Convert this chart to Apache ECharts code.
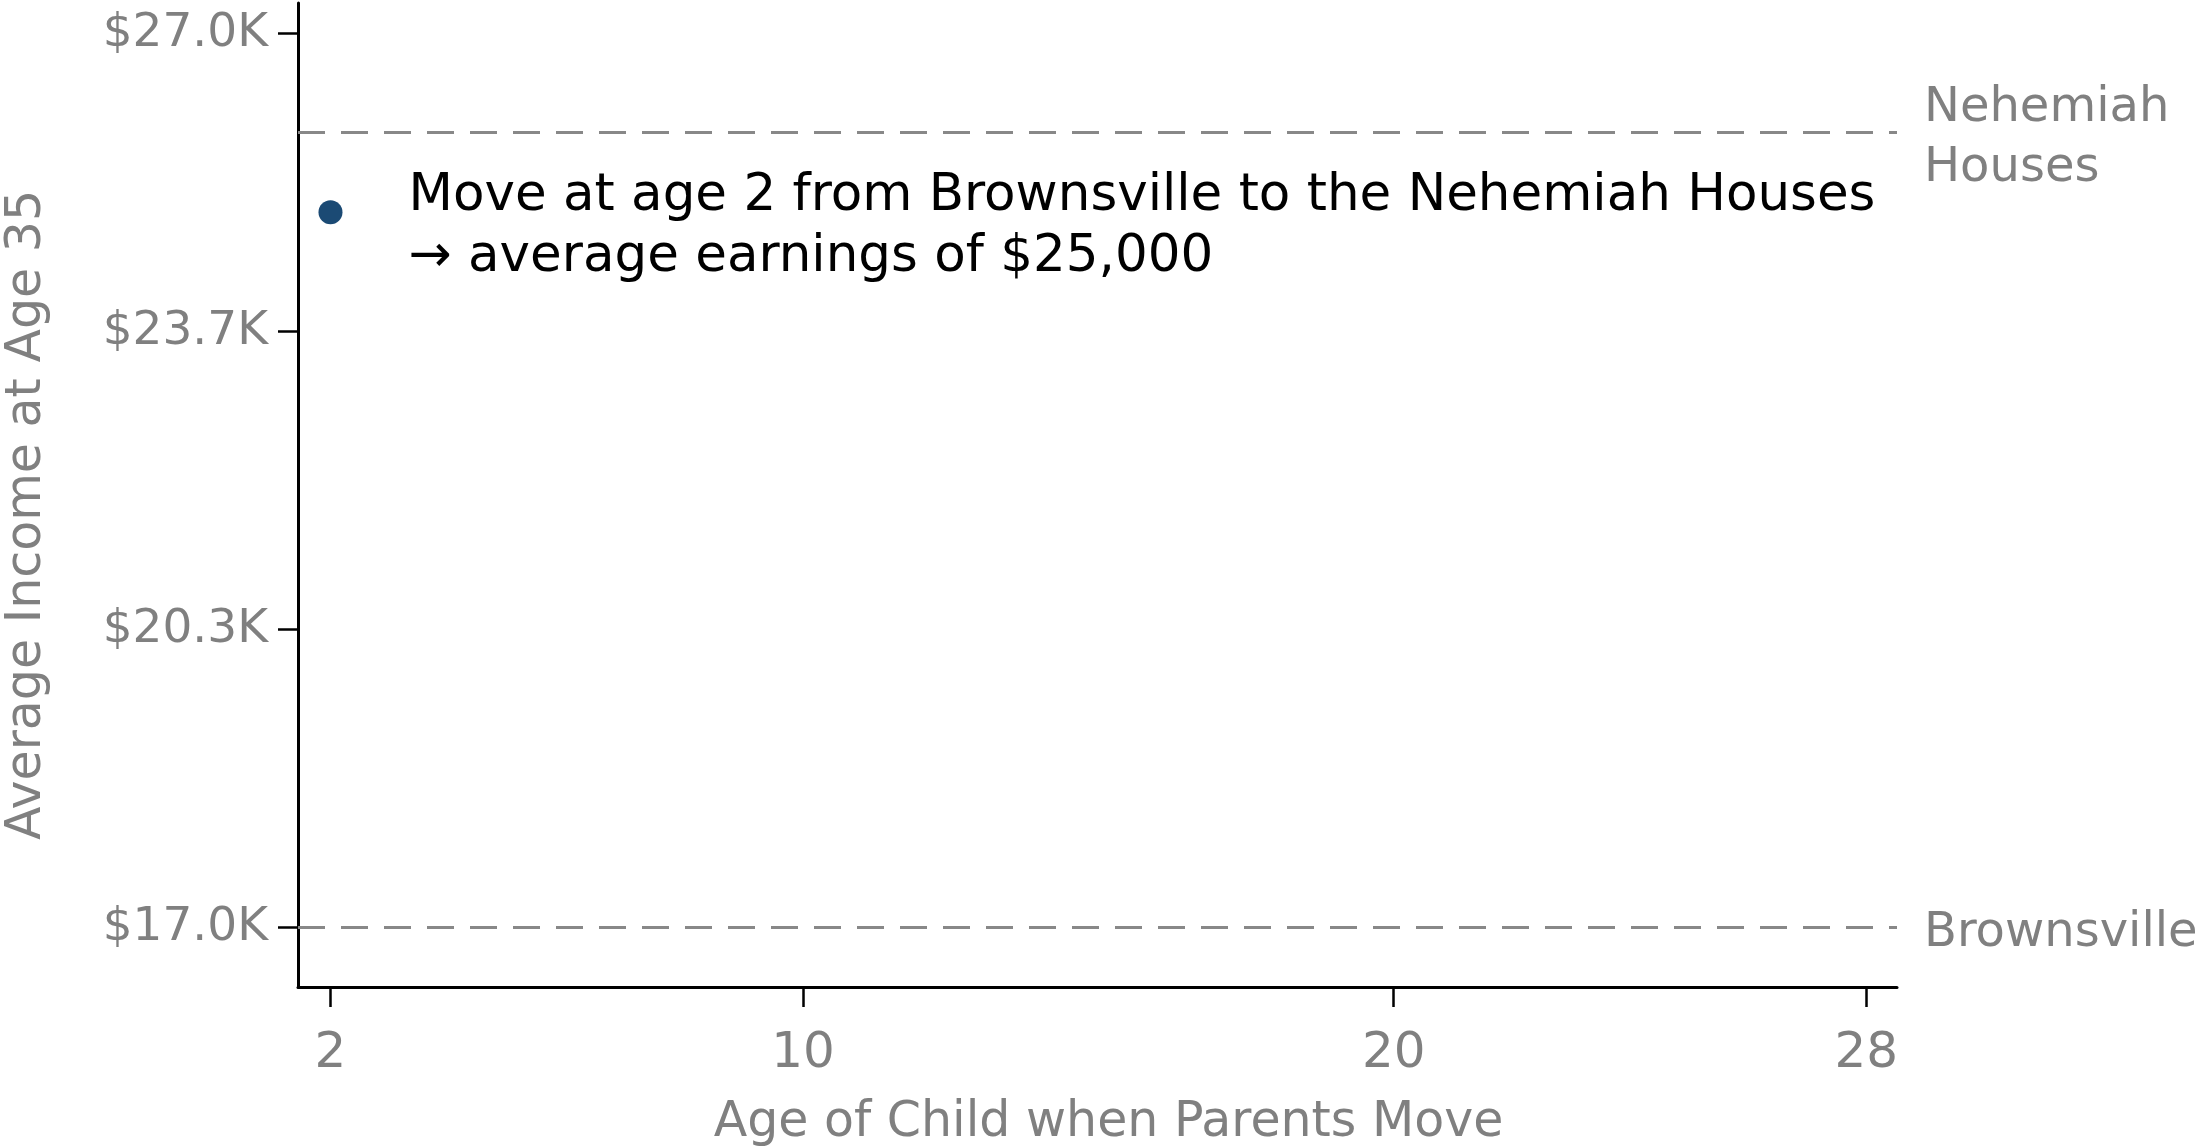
<!DOCTYPE html>
<html>
<head>
<meta charset="utf-8">
<script src="https://cdn.jsdelivr.net/npm/echarts@6.0.0/dist/echarts.min.js"></script>
<style>
  html, body { margin: 0; padding: 0; background: #fff; }
  #chart { width: 2203px; height: 1146px; }
</style>
</head>
<body>
<div id="chart"></div>
<script>
// age at move vs income at 35
var ages = [2];
var incomes = [25000];
var xTicks = [2, 10, 20, 28];
var yTicks = [17000, 20333.33, 23666.67, 27000];
var refNames = ["Nehemiah\nHouses", "Brownsville"];
var refValues = [25890, 17000];
var note = "Move at age 2 from Brownsville to the Nehemiah Houses\n\u2192 average earnings of $25,000";

var FONT = "DejaVu Sans";
var GRAY = "#808080";

var chart = echarts.init(document.getElementById("chart"));

var points = ages.map(function (a, i) {
  return [a, incomes[i]];
});

var refLines = refValues.map(function (v, i) {
  return { yAxis: v, name: refNames[i] };
});

option = {
  animation: false,
  backgroundColor: "#fff",
  grid: {
    left: 298,
    right: 306,
    top: 3,
    bottom: 159,
    containLabel: false,
    outerBoundsMode: "none"
  },
  xAxis: {
    type: "value",
    min: 1.45,
    max: 28.52,
    name: "Age of Child when Parents Move",
    nameLocation: "middle",
    nameGap: 112,
    nameMoveOverlap: false,
    nameTextStyle: {
      fontFamily: FONT,
      fontSize: 49,
      color: GRAY,
      padding: [0, 0, 0, 22]
    },
    axisLine: { show: true, lineStyle: { color: "#000", width: 3 } },
    axisTick: {
      show: true,
      length: 20,
      customValues: xTicks,
      lineStyle: { color: "#000", width: 2.5 }
    },
    axisLabel: {
      customValues: xTicks,
      margin: 42,
      fontFamily: FONT,
      fontSize: 50,
      color: GRAY
    },
    splitLine: { show: false }
  },
  yAxis: {
    type: "value",
    min: 16337,
    max: 27340,
    name: "Average Income at Age 35",
    nameLocation: "middle",
    nameGap: 246,
    nameMoveOverlap: false,
    nameTextStyle: {
      fontFamily: FONT,
      fontSize: 49,
      color: GRAY,
      padding: [0, 40, 0, 0]
    },
    axisLine: { show: true, lineStyle: { color: "#000", width: 3 } },
    axisTick: {
      show: true,
      length: 20,
      customValues: yTicks,
      lineStyle: { color: "#000", width: 2.5 }
    },
    axisLabel: {
      customValues: yTicks,
      margin: 30,
      fontFamily: FONT,
      fontSize: 47,
      color: GRAY,
      formatter: function (v) {
        return "$" + (v / 1000).toFixed(1) + "K";
      }
    },
    splitLine: { show: false }
  },
  series: [
    {
      type: "scatter",
      data: points,
      symbolSize: 24,
      itemStyle: { color: "#1b4a74", opacity: 1 },
      label: {
        show: true,
        position: "right",
        distance: 66,
        offset: [0, 15],
        formatter: note,
        fontFamily: FONT,
        fontSize: 51.5,
        lineHeight: 61,
        color: "#000",
        align: "left"
      },
      markLine: {
        silent: true,
        symbol: "none",
        lineStyle: { color: "#888", width: 3, type: [27, 16] },
        label: {
          show: true,
          position: "end",
          distance: 27,
          offset: [0, 6],
          formatter: "{b}",
          fontFamily: FONT,
          fontSize: 48,
          lineHeight: 60,
          color: GRAY
        },
        data: refLines
      }
    }
  ]
};

chart.setOption(option);
</script>
</body>
</html>
